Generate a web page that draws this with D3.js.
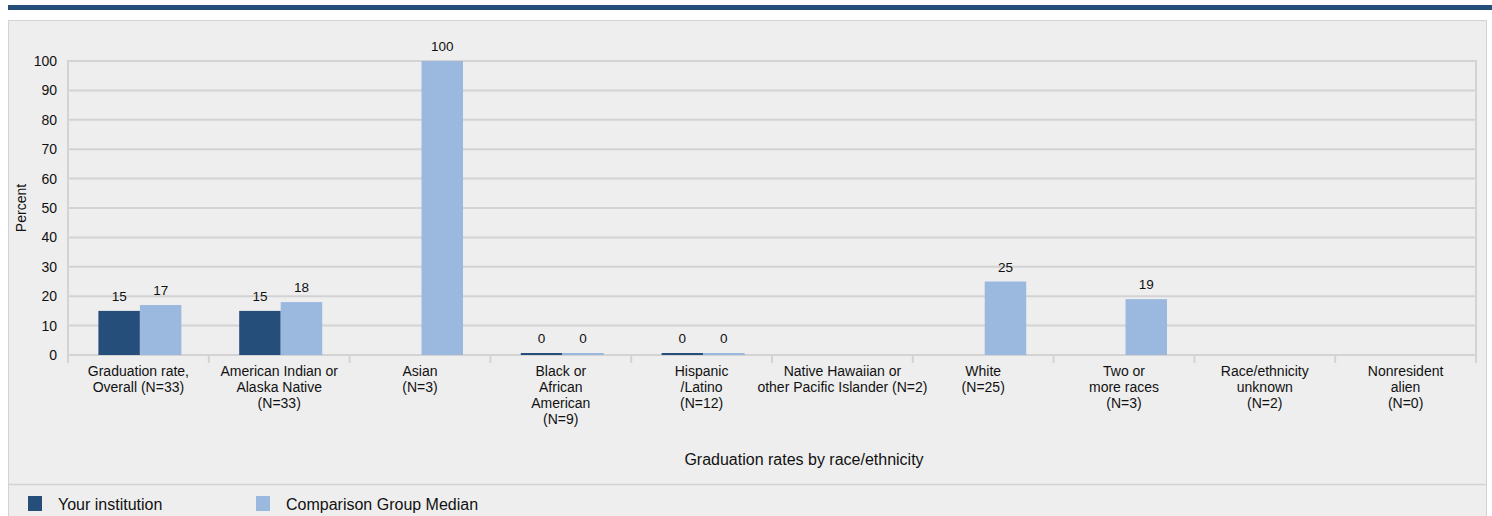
<!DOCTYPE html>
<html>
<head>
<meta charset="utf-8">
<script src="https://cdn.jsdelivr.net/npm/d3@7"></script>
<style>
  body { margin: 0; background: #fff; }
  svg text { font-family: "Liberation Sans", Arial, sans-serif; fill: #111; }
</style>
</head>
<body>
<svg id="chart" width="1492" height="516"></svg>
<script>
// categories, each label split into its lines
var categories = [
  ["Graduation rate,", "Overall (N=33)"],
  ["American Indian or", "Alaska Native", "(N=33)"],
  ["Asian", "(N=3)"],
  ["Black or", "African", "American", "(N=9)"],
  ["Hispanic", "/Latino", "(N=12)"],
  ["Native Hawaiian or", "other Pacific Islander (N=2)"],
  ["White", "(N=25)"],
  ["Two or", "more races", "(N=3)"],
  ["Race/ethnicity", "unknown", "(N=2)"],
  ["Nonresident", "alien", "(N=0)"]
];
var yourInstitution = [15, 15, null, 0, 0, null, null, null, null, null];
var comparisonMedian = [17, 18, 100, 0, 0, null, 25, 19, null, null];
var seriesNames = ["Your institution", "Comparison Group Median"];
var seriesColors = ["#264e7b", "#9bb9de"];
var yTicks = [0, 10, 20, 30, 40, 50, 60, 70, 80, 90, 100];

var svg = d3.select("#chart");

// top stripe
svg.append("rect").attr("x", 8).attr("y", 5).attr("width", 1484).attr("height", 5).attr("fill", "#264e7b");

// panel
svg.append("rect").attr("x", 8.5).attr("y", 20.5).attr("width", 1478).attr("height", 520)
  .attr("fill", "#eeeeee").attr("stroke", "#d3d3d3");
svg.append("line").attr("x1", 8).attr("x2", 1487).attr("y1", 484.5).attr("y2", 484.5)
  .attr("stroke", "#d3d3d3").attr("stroke-width", 1.5);

var plotLeft = 68, plotRight = 1476, plotTop = 61, plotBottom = 355;

var x = d3.scaleBand().domain(d3.range(categories.length)).range([plotLeft, plotRight]);
var x1 = d3.scaleBand().domain([0, 1]).range([0, 83]);
var y = d3.scaleLinear().domain([0, 100]).range([plotBottom, plotTop]);
var groupOffset = (x.bandwidth() - 83) / 2 + 1.5;

// gridlines
svg.append("g").selectAll("line").data(yTicks).join("line")
  .attr("x1", plotLeft).attr("x2", plotRight)
  .attr("y1", function(d) { return y(d); }).attr("y2", function(d) { return y(d); })
  .attr("stroke", "#d3d3d3").attr("stroke-width", 2);

// left and right frame
svg.append("line").attr("x1", plotLeft).attr("x2", plotLeft).attr("y1", plotTop - 1).attr("y2", plotBottom + 8)
  .attr("stroke", "#d3d3d3").attr("stroke-width", 2);
svg.append("line").attr("x1", plotRight).attr("x2", plotRight).attr("y1", plotTop - 1).attr("y2", plotBottom + 8)
  .attr("stroke", "#d3d3d3").attr("stroke-width", 2);

// y axis labels
svg.append("g").selectAll("text").data(yTicks).join("text")
  .attr("x", 57).attr("y", function(d) { return y(d); }).attr("dy", "0.35em")
  .attr("text-anchor", "end").attr("font-size", 14).text(function(d) { return d; });

svg.append("text").attr("transform", "translate(26,208) rotate(-90)")
  .attr("text-anchor", "middle").attr("font-size", 14).text("Percent");

// x ticks
svg.append("g").selectAll("line").data(d3.range(1, categories.length)).join("line")
  .attr("x1", function(d) { return x(d); }).attr("x2", function(d) { return x(d); })
  .attr("y1", plotBottom).attr("y2", plotBottom + 8)
  .attr("stroke", "#d3d3d3").attr("stroke-width", 2);

// bars
var series = [yourInstitution, comparisonMedian];
series.forEach(function(vals, s) {
  var data = vals.map(function(v, i) { return { i: i, v: v }; }).filter(function(d) { return d.v !== null; });
  var g = svg.append("g");
  g.selectAll("rect").data(data).join("rect")
    .attr("x", function(d) { return x(d.i) + groupOffset + x1(s); })
    .attr("width", x1.bandwidth())
    .attr("y", function(d) { return Math.min(y(d.v), plotBottom - 2); })
    .attr("height", function(d) { return Math.max(plotBottom - y(d.v), 2); })
    .attr("fill", seriesColors[s]);
  g.selectAll("text").data(data).join("text")
    .attr("x", function(d) { return x(d.i) + groupOffset + x1(s) + x1.bandwidth() / 2; })
    .attr("y", function(d) { return Math.min(y(d.v), plotBottom - 2) - 10; })
    .attr("text-anchor", "middle").attr("font-size", 13.5)
    .text(function(d) { return d.v; });
});

// category labels
svg.append("g").selectAll("text").data(categories).join("text")
  .attr("text-anchor", "middle").attr("font-size", 14)
  .attr("transform", function(d, i) { return "translate(" + (x(i) + x.bandwidth() / 2) + ",376)"; })
  .each(function(lines) {
    d3.select(this).selectAll("tspan").data(lines).join("tspan")
      .attr("x", 0).attr("y", function(d, j) { return j * 16; }).text(function(d) { return d; });
  });

svg.append("text").attr("x", 804).attr("y", 465).attr("text-anchor", "middle")
  .attr("font-size", 16).text("Graduation rates by race/ethnicity");

// legend
var legendX = [28, 256];
seriesNames.forEach(function(name, s) {
  svg.append("rect").attr("x", legendX[s]).attr("y", 496).attr("width", 14).attr("height", 15)
    .attr("fill", seriesColors[s]);
  svg.append("text").attr("x", legendX[s] + 30).attr("y", 510).attr("font-size", 16).text(name);
});
</script>
</body>
</html>
